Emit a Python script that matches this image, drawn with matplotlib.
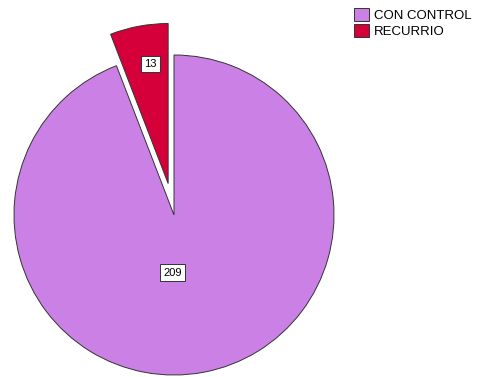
import matplotlib
matplotlib.use("Agg")
import matplotlib.pyplot as plt
import numpy as np

categories = ["RECURRIO", "CON CONTROL"]
values = [13, 209]
colors = ["#d5003a", "#cb80e6"]
explode = [0.2, 0.0]
label_dist = [0.76, 0.37]

plt.rcParams["font.family"] = ["Liberation Sans", "DejaVu Sans"]

fig = plt.figure(figsize=(4.82, 3.77), dpi=100)
# axes: pie centre at (174, 215) px, radius 160 px
ax = fig.add_axes([14 / 482, 2 / 377, 320 / 482, 320 / 377])

wedges, _ = ax.pie(values, colors=colors, explode=explode, startangle=90,
                   counterclock=True, radius=1.0,
                   wedgeprops=dict(edgecolor="#333333", linewidth=0.7))
for w in wedges:
    w.set_clip_on(False)

total = sum(values)
start = 90.0
for v, e, d in zip(values, explode, label_dist):
    span = 360.0 * v / total
    mid = np.deg2rad(start + span / 2)
    x = (e + d) * np.cos(mid)
    y = (e + d) * np.sin(mid)
    if v == 209:
        x, y = -0.01, -0.36
    else:
        x += 0.03
    ax.text(x, y, str(v), ha="center", va="center", fontsize=8,
            bbox=dict(boxstyle="square,pad=0.3", fc="white", ec="#333333", lw=0.7))
    start += span

ax.set_xlim(-1, 1)
ax.set_ylim(-1, 1)
ax.set_aspect("equal")
ax.axis("off")

# legend order: CON CONTROL first
handles = [wedges[1], wedges[0]]
leg = fig.legend(handles, ["CON CONTROL", "RECURRIO"], loc="upper left",
                 bbox_to_anchor=(349 / 482, 1 - 3 / 377), frameon=False,
                 fontsize=9.5, handlelength=1.1, handleheight=1.1,
                 handletextpad=0.4, labelspacing=0.15, borderaxespad=0)

fig.savefig("out.png", dpi=100)
